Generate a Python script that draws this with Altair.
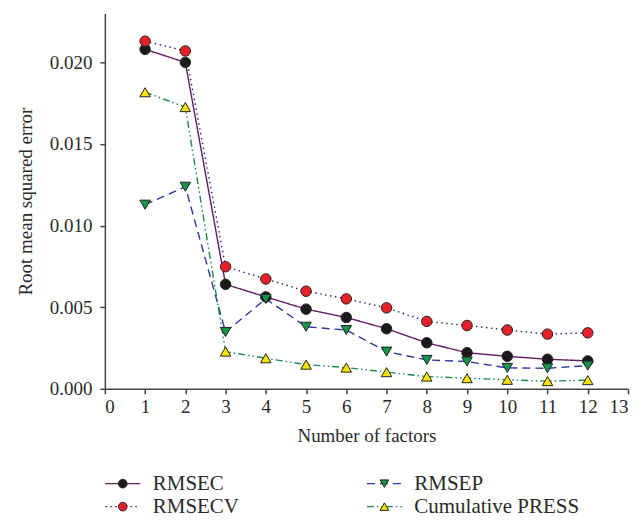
import altair as alt
import pandas as pd

factors = [1, 2, 3, 4, 5, 6, 7, 8, 9, 10, 11, 12]
rmsec = [0.0208, 0.0200, 0.0064, 0.00563, 0.00488, 0.00437, 0.00368, 0.00282, 0.00221, 0.00199, 0.00181, 0.00171]
rmsecv = [0.0213, 0.0207, 0.00748, 0.00673, 0.00598, 0.00551, 0.00496, 0.00413, 0.00388, 0.0036, 0.00335, 0.00343]
rmsep = [0.01128, 0.01238, 0.00348, 0.00551, 0.0038, 0.0036, 0.00228, 0.00177, 0.00167, 0.00128, 0.00126, 0.00142]
press = [0.01817, 0.01726, 0.00228, 0.00187, 0.00148, 0.0013, 0.00102, 0.00075, 0.00065, 0.00055, 0.00047, 0.00053]

series_names = ["RMSEC", "RMSECV", "RMSEP", "Cumulative PRESS"]
line_colors = ["#641c64", "#23237e", "#2b36a0", "#1a8a48"]
fill_colors = ["#1a1a1a", "#e8202a", "#16954a", "#f5e400"]
shapes = ["circle", "circle", "triangle-down", "triangle-up"]
dashes = [[1, 0], [1.5, 3.5], [8, 5], [7, 3, 1.5, 3, 1.5, 3]]
legend_col = [0, 0, 1, 1]
legend_row = [0, 1, 0, 1]

rows = []
for name, vals in zip(series_names, [rmsec, rmsecv, rmsep, press]):
    for f, v in zip(factors, vals):
        rows.append({"series": name, "factor": f, "value": v})
df = pd.DataFrame(rows)
df["order"] = df["series"].map({n: i for i, n in enumerate(series_names)})

leg = pd.DataFrame({"series": series_names, "col": legend_col, "row": legend_row})

FONT = "Liberation Serif"
stroke_scale = alt.Scale(domain=series_names, range=line_colors)
dash_scale = alt.Scale(domain=series_names, range=dashes)
fill_scale = alt.Scale(domain=series_names, range=fill_colors)
shape_scale = alt.Scale(domain=series_names, range=shapes)

x_enc = alt.X("factor:Q", scale=alt.Scale(domain=[0, 13], nice=False),
              axis=alt.Axis(values=list(range(14)), title="Number of factors",
                            tickSize=5, labelPadding=4, titlePadding=10, grid=False,
                            labelFont=FONT, titleFont=FONT))
y_enc = alt.Y("value:Q", scale=alt.Scale(domain=[0, 0.023], nice=False),
              axis=alt.Axis(values=[0, 0.005, 0.01, 0.015, 0.02], format=".3f",
                            title="Root mean squared error", tickSize=5,
                            labelPadding=8, titlePadding=14, grid=False,
                            labelFont=FONT, titleFont=FONT))

lines = alt.Chart(df).mark_line(strokeWidth=1.4).encode(
    x=x_enc, y=y_enc,
    stroke=alt.Stroke("series:N", scale=stroke_scale, legend=None),
    strokeDash=alt.StrokeDash("series:N", scale=dash_scale, legend=None),
    detail="series:N",
)
points = alt.Chart(df).mark_point(filled=True, size=110, stroke="#222222",
                                  strokeWidth=1, opacity=1).encode(
    x="factor:Q", y="value:Q",
    fill=alt.Fill("series:N", scale=fill_scale, legend=None),
    shape=alt.Shape("series:N", scale=shape_scale, legend=None),
    order="order:Q",
)
main = alt.layer(lines, points).properties(width=524, height=376)

lx = alt.X("col:O", scale=alt.Scale(range=[18, 280], padding=0), axis=None)
ly = alt.Y("row:O", scale=alt.Scale(range=[14, 37], padding=0), axis=None)
seg = alt.Chart(leg).mark_point(shape="M-1,0L1,0", size=1225, strokeWidth=1.4,
                                filled=False, opacity=1).encode(
    x=lx, y=ly,
    stroke=alt.Stroke("series:N", scale=stroke_scale, legend=None),
    strokeDash=alt.StrokeDash("series:N", scale=dash_scale, legend=None),
)
lpts = alt.Chart(leg).mark_point(filled=True, size=75, stroke="#222222",
                                 strokeWidth=1, opacity=1).encode(
    x=lx, y=ly,
    fill=alt.Fill("series:N", scale=fill_scale, legend=None),
    shape=alt.Shape("series:N", scale=shape_scale, legend=None),
)
ltext = alt.Chart(leg).mark_text(align="left", baseline="middle", dx=30,
                                 font=FONT, fontSize=21, color="#2a2a2a").encode(
    x=lx, y=ly, text="series:N")
legend = alt.layer(seg, lpts, ltext).properties(width=524, height=45)

chart = alt.vconcat(main, legend, spacing=24).resolve_scale(
    stroke="independent", fill="independent", shape="independent", strokeDash="independent"
).configure_view(stroke=None).configure_axis(
    labelFont=FONT, titleFont=FONT, labelFontSize=19, titleFontSize=19,
    titleFontWeight="normal", labelColor="#2a2a2a", titleColor="#2a2a2a",
    domainColor="#444444", tickColor="#444444", domainWidth=1.5, tickWidth=1.5,
).properties(padding={"left": 8, "top": 5, "right": 5, "bottom": 0})

chart.save("out.html", embed_options={"renderer": "svg", "actions": False})
